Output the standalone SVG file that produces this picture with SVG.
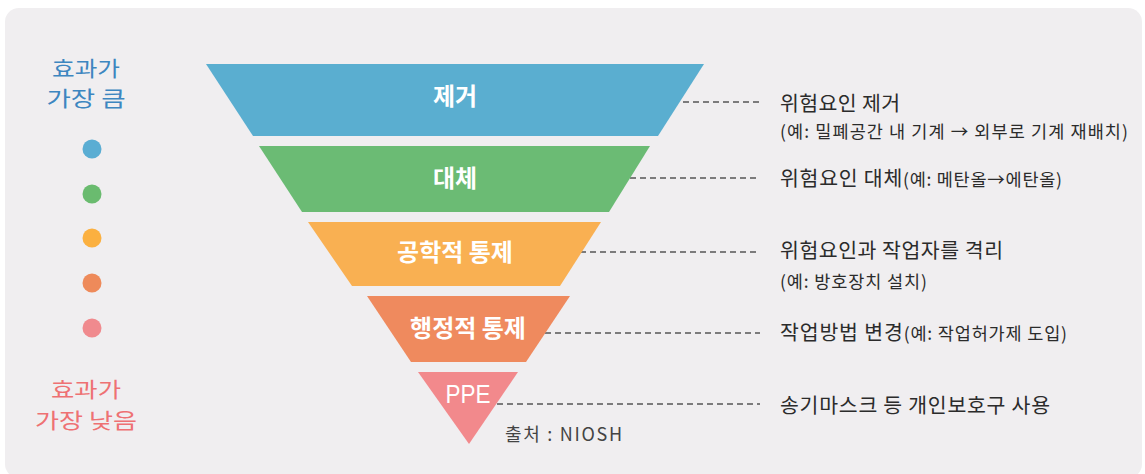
<svg xmlns="http://www.w3.org/2000/svg" width="1145" height="474" viewBox="0 0 1145 474">
<style>
  .kr { font-family: "Noto Sans CJK KR", "Noto Sans", sans-serif; }
  .lbl { font-family: "Noto Sans CJK KR", "Noto Sans", sans-serif; font-size: 24px; font-weight: bold; fill: #ffffff; text-anchor: middle; }
  .desc { font-family: "Noto Sans CJK KR", "Noto Sans", sans-serif; font-size: 20.5px; fill: #2b2b2b; }
  .sm { font-size: 17.5px; }
  .dash { stroke: #555555; stroke-width: 1.5; stroke-dasharray: 6 4; fill: none; }
  .hi { fill: #3d86c0; font-size: 21px; text-anchor: middle; }
  .lo { fill: #ee7173; font-size: 21px; text-anchor: middle; }
</style>
<rect x="0" y="0" width="1145" height="474" fill="#ffffff"/>
<rect x="5" y="8" width="1137" height="470" rx="14" fill="#f0eef0"/>

<g id="legend">
  <text class="kr hi" x="86" y="76" textLength="68" lengthAdjust="spacingAndGlyphs">효과가</text>
  <text class="kr hi" x="86" y="106" textLength="79" lengthAdjust="spacingAndGlyphs">가장 큼</text>
  <circle cx="92" cy="149" r="9.5" fill="#5aadd3"/>
  <circle cx="92" cy="194" r="9.5" fill="#6abb6f"/>
  <circle cx="92" cy="238" r="9.5" fill="#fbb040"/>
  <circle cx="92" cy="283" r="9.5" fill="#ee8a5a"/>
  <circle cx="92" cy="328" r="9.5" fill="#f08a8e"/>
  <text class="kr lo" x="86" y="397" textLength="70" lengthAdjust="spacingAndGlyphs">효과가</text>
  <text class="kr lo" x="86" y="428" textLength="102" lengthAdjust="spacingAndGlyphs">가장 낮음</text>
</g>

<g id="connectors">
  <line class="dash" x1="683" y1="102" x2="760" y2="102"/>
  <line class="dash" x1="630" y1="178" x2="760" y2="178"/>
  <line class="dash" x1="580" y1="252" x2="760" y2="252"/>
  <line class="dash" x1="545" y1="333" x2="760" y2="333"/>
  <line class="dash" x1="497" y1="404" x2="760" y2="404"/>
</g>

<g id="n-elimination">
  <polygon points="206,64 704,64 658,136 253,136" fill="#5aaed0"/>
  <text class="lbl" x="455" y="105">제거</text>
</g>
<g id="n-substitution">
  <polygon points="259,146 650,146 609,212 302,212" fill="#6bbb74"/>
  <text class="lbl" x="455" y="187">대체</text>
</g>
<g id="n-engineering">
  <polygon points="308,222 601,222 560,286 352,286" fill="#f9b052"/>
  <text class="lbl" x="455" y="261">공학적 통제</text>
</g>
<g id="n-administrative">
  <polygon points="367,296 570,296 526,362 411,362" fill="#ef8a5e"/>
  <text class="lbl" x="468" y="337">행정적 통제</text>
</g>
<g id="n-ppe">
  <polygon points="418,372 518,372 469,444" fill="#f2898c"/>
  <text x="468" y="403" font-family="'Liberation Sans', 'Noto Sans', sans-serif" font-size="26" fill="#ffffff" text-anchor="middle" textLength="45" lengthAdjust="spacingAndGlyphs">PPE</text>
</g>

<text class="kr" x="505" y="441" font-size="18" fill="#444444" textLength="117" lengthAdjust="spacing">출처 : NIOSH</text>

<g id="descriptions">
  <text class="desc" x="780" y="111" textLength="120" lengthAdjust="spacing">위험요인 제거</text>
  <text class="desc sm" x="780" y="138" textLength="348" lengthAdjust="spacing">(예: 밀폐공간 내 기계 → 외부로 기계 재배치)</text>
  <text class="desc" x="780" y="186" textLength="282" lengthAdjust="spacing">위험요인 대체<tspan class="sm">(예: 메탄올→에탄올)</tspan></text>
  <text class="desc" x="780" y="258" textLength="223" lengthAdjust="spacing">위험요인과 작업자를 격리</text>
  <text class="desc sm" x="780" y="288" textLength="147" lengthAdjust="spacing">(예: 방호장치 설치)</text>
  <text class="desc" x="780" y="340" textLength="287" lengthAdjust="spacing">작업방법 변경<tspan class="sm">(예: 작업허가제 도입)</tspan></text>
  <text class="desc" x="780" y="413" textLength="270" lengthAdjust="spacing">송기마스크 등 개인보호구 사용</text>
</g>
</svg>
